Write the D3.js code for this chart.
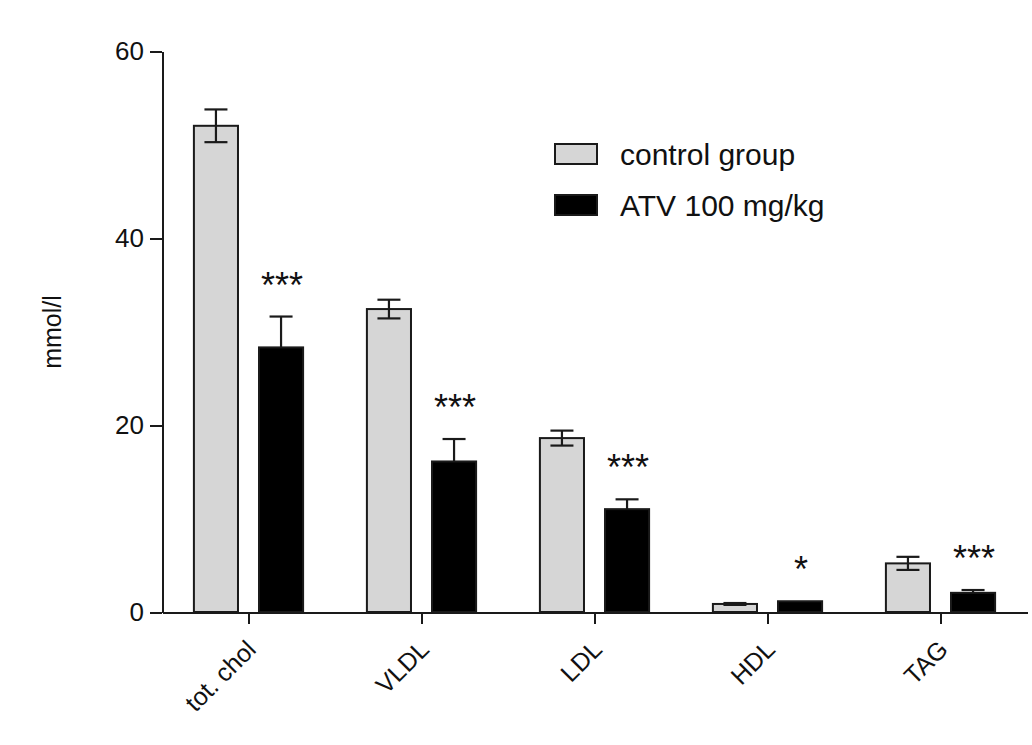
<!DOCTYPE html>
<html>
<head>
<meta charset="utf-8">
<script src="https://cdn.jsdelivr.net/npm/d3@7"></script>
<style>
  html, body { margin: 0; padding: 0; background: #ffffff; }
  svg { display: block; font-family: "Liberation Sans", Arial, sans-serif; }
  .axis path, .axis line { stroke: #1a1a1a; stroke-width: 2; shape-rendering: crispEdges; }
  .axis text { fill: #111; }
</style>
</head>
<body>
<svg id="chart" width="1032" height="745"></svg>
<script>
// Lipid profile per group (mmol/l), mean and SEM
const categories = ["tot. chol", "VLDL", "LDL", "HDL", "TAG"];
const groups = ["control group", "ATV 100 mg/kg"];
const controlMean = [52.0, 32.4, 18.6, 0.86, 5.2];
const controlSem  = [1.75, 1.0, 0.8, 0.1, 0.7];
const atvMean     = [28.3, 16.1, 11.0, 1.15, 2.05];
const atvSem      = [3.3, 2.4, 1.05, 0, 0.3];
const significance = ["***", "***", "***", "*", "***"];
const yTicks = [0, 20, 40, 60];

const fills = { "control group": "#d6d6d6", "ATV 100 mg/kg": "#000000" };

const rows = categories.map((c, i) => ({
  category: c,
  sig: significance[i],
  bars: [
    { group: groups[0], mean: controlMean[i], sem: controlSem[i] },
    { group: groups[1], mean: atvMean[i], sem: atvSem[i] }
  ]
}));

const svg = d3.select("#chart");

const y = d3.scaleLinear().domain([0, 60]).range([612, 51]);
const x0 = d3.scaleBand().domain(categories).range([162, 1027]).paddingInner(0).paddingOuter(0);
const x1 = d3.scaleBand().domain(groups).range([0, x0.bandwidth()])
  .paddingInner(0.323).paddingOuter(0.49);

// Bars
const g = svg.append("g");
const groupSel = g.selectAll("g.cat").data(rows).join("g")
  .attr("class", "cat")
  .attr("transform", d => `translate(${x0(d.category)},0)`);

groupSel.selectAll("rect").data(d => d.bars).join("rect")
  .attr("x", d => x1(d.group))
  .attr("y", d => y(d.mean))
  .attr("width", x1.bandwidth())
  .attr("height", d => y(0) - y(d.mean))
  .attr("fill", d => fills[d.group])
  .attr("stroke", "#1a1a1a")
  .attr("stroke-width", 2);

// Error bars: both directions on the light bars, upward on the dark bars
const capW = 23;
const eb = groupSel.selectAll("g.err").data(d => d.bars.filter(b => b.sem > 0)).join("g")
  .attr("class", "err")
  .attr("stroke", "#1a1a1a")
  .attr("stroke-width", 2.2);
eb.append("line")
  .attr("x1", d => x1(d.group) + x1.bandwidth() / 2)
  .attr("x2", d => x1(d.group) + x1.bandwidth() / 2)
  .attr("y1", d => d.group === groups[0] ? y(d.mean - d.sem) : y(d.mean))
  .attr("y2", d => y(d.mean + d.sem));
eb.append("line")
  .attr("x1", d => x1(d.group) + x1.bandwidth() / 2 - capW / 2)
  .attr("x2", d => x1(d.group) + x1.bandwidth() / 2 + capW / 2)
  .attr("y1", d => y(d.mean + d.sem))
  .attr("y2", d => y(d.mean + d.sem));
eb.filter(d => d.group === groups[0]).append("line")
  .attr("x1", d => x1(d.group) + x1.bandwidth() / 2 - capW / 2)
  .attr("x2", d => x1(d.group) + x1.bandwidth() / 2 + capW / 2)
  .attr("y1", d => y(d.mean - d.sem))
  .attr("y2", d => y(d.mean - d.sem));

// Significance marks above the treated bars
groupSel.append("text")
  .attr("x", x1(groups[1]) + x1.bandwidth() / 2 + 1)
  .attr("y", d => y(d.bars[1].mean + d.bars[1].sem) - 19)
  .attr("text-anchor", "middle")
  .attr("font-size", 36)
  .attr("fill", "#111")
  .text(d => d.sig);

// Y axis
const yAxis = svg.append("g").attr("class", "axis")
  .attr("transform", "translate(162,0)")
  .call(d3.axisLeft(y).tickValues(yTicks).tickSize(12).tickSizeOuter(0).tickPadding(6));
yAxis.selectAll("text").attr("font-size", 26).attr("font-family", "Liberation Sans, Arial, sans-serif");

// X axis
const xAxis = svg.append("g").attr("class", "axis")
  .attr("transform", "translate(0,612)")
  .call(d3.axisBottom(x0).tickSize(12).tickSizeOuter(0));
xAxis.selectAll("text")
  .attr("font-size", 25)
  .attr("font-family", "Liberation Sans, Arial, sans-serif")
  .attr("text-anchor", "end")
  .attr("dy", 0)
  .attr("y", 0)
  .attr("transform", "translate(9,39) rotate(-45)");

// Y axis title
svg.append("text")
  .attr("transform", "translate(61,332) rotate(-90)")
  .attr("text-anchor", "middle")
  .attr("font-size", 25)
  .attr("fill", "#111")
  .text("mmol/l");

// Legend
const legend = svg.append("g").attr("transform", "translate(555,144)");
const li = legend.selectAll("g").data(groups).join("g")
  .attr("transform", (d, i) => `translate(0,${i * 51})`);
li.append("rect")
  .attr("width", 42).attr("height", 20)
  .attr("fill", d => fills[d])
  .attr("stroke", "#1a1a1a").attr("stroke-width", 2);
li.append("text")
  .attr("x", 65).attr("y", 21)
  .attr("font-size", 30)
  .attr("fill", "#111")
  .text(d => d);
</script>
</body>
</html>
